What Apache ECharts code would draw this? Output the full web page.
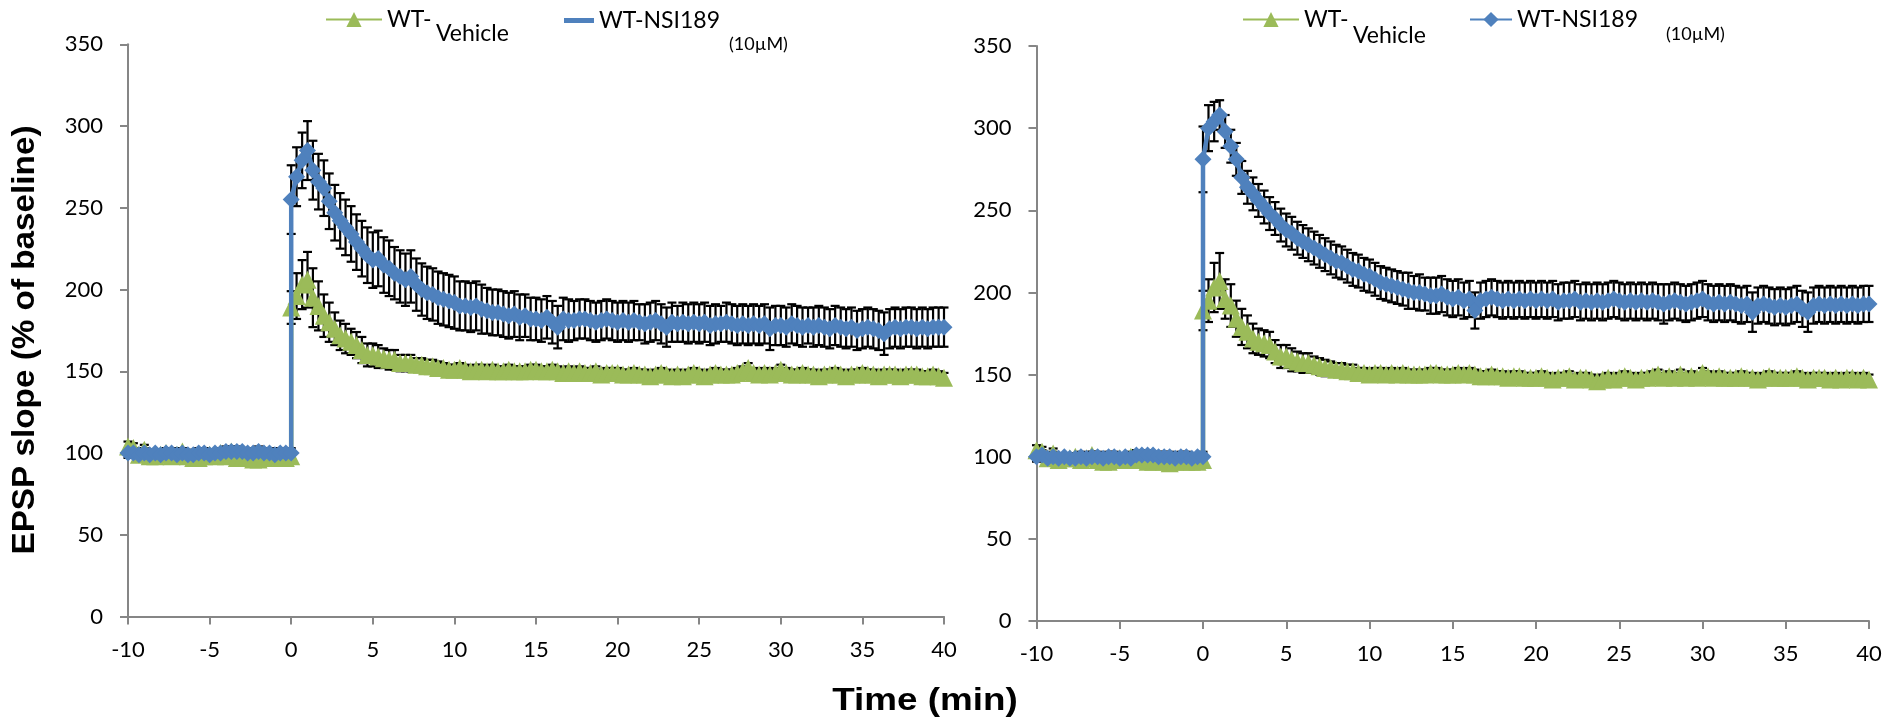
<!DOCTYPE html>
<html>
<head>
<meta charset="utf-8">
<script src="https://cdn.jsdelivr.net/npm/echarts@6/dist/echarts.min.js"></script>
<style>
html,body{margin:0;padding:0;background:#fff;}
#chart{width:1902px;height:723px;}
</style>
</head>
<body>
<div id="chart"></div>
<script>
// ---- time points (min) ----
const timeBaseline = [-10,-9.67,-9.33,-9,-8.67,-8.33,-8,-7.67,-7.33,-7,
  -6.67,-6.33,-6,-5.67,-5.33,-5,-4.67,-4.33,-4,-3.67,
  -3.33,-3,-2.67,-2.33,-2,-1.67,-1.33,-1,-0.67,-0.33,0];
const timePost = [
  0,0.33,0.67, 1,1.33,1.67, 2,2.33,2.67, 3,3.33,3.67, 4,4.33,4.67,
  5,5.33,5.67, 6,6.33,6.67, 7,7.33,7.67, 8,8.33,8.67, 9,9.33,9.67,
  10,10.33,10.67, 11,11.33,11.67, 12,12.33,12.67, 13,13.33,13.67, 14,14.33,14.67,
  15,15.33,15.67, 16,16.33,16.67, 17,17.33,17.67, 18,18.33,18.67, 19,19.33,19.67,
  20,20.33,20.67, 21,21.33,21.67, 22,22.33,22.67, 23,23.33,23.67, 24,24.33,24.67,
  25,25.33,25.67, 26,26.33,26.67, 27,27.33,27.67, 28,28.33,28.67, 29,29.33,29.67,
  30,30.33,30.67, 31,31.33,31.67, 32,32.33,32.67, 33,33.33,33.67, 34,34.33,34.67,
  35,35.33,35.67, 36,36.33,36.67, 37,37.33,37.67, 38,38.33,38.67, 39,39.33,39.67,
  40];

// ---- left panel ----
const leftVehBase = [104,103,99,102,98,98,99,100,98,99, 101,98,97,97,98,99,98,100,98,101, 97,97,98,96,96,97,98,98,97,97, 98];
const leftVehPost = [
  189,196,203, 206,195,190, 184,180,176, 172,170,168, 166,163,160,
  160,159,158, 157,157,155, 155,155,154, 154,153,153, 152,152,151,
  151,152,151, 150,151,151, 150,151,150, 150,151,150, 150,150,151,
  151,150,150, 151,150,149, 150,149,150, 149,149,150, 148,149,149,
  149,148,148, 149,148,148, 147,148,149, 148,147,148, 147,148,149,
  148,147,148, 149,148,148, 148,149,150, 152,149,148, 149,148,149,
  151,149,148, 148,149,148, 148,147,148, 148,149,148, 147,148,148,
  149,148,148, 147,148,148, 148,147,148, 148,148,147, 147,148,147,
  146];
const leftVehErrBase = [3,3,2,3,2,3,3,2,3,3, 2,3,3,2,3,3,2,3,3,2, 3,3,2,3,3,3,2,3,3,3, 3];
const leftVehErrPost = [
  10,14,15, 17,18,15, 13,12,10, 9,9,8, 8,8,7,
  7,7,6, 6,6,5, 5,5,4, 4,4,4, 4,3,3,
  3,3,3, 3,3,3, 3,3,3, 3,3,3, 3,3,3,
  3,3,3, 3,3,3, 3,3,3, 3,3,3, 3,3,3,
  3,3,3, 3,3,3, 3,3,3, 3,3,3, 3,3,3,
  3,3,3, 3,3,3, 3,3,3, 3,3,3, 3,3,3,
  3,3,3, 3,3,3, 3,3,3, 3,3,3, 3,3,3,
  3,3,3, 3,3,3, 3,3,3, 3,3,3, 3,3,3,
  3];
const leftNsiBase = [100,100,99,100,99,100,99,100,100,99, 100,99,99,100,100,99,100,100,101,101, 101,101,100,100,101,100,100,99,100,100, 100];
const leftNsiPost = [
  255,269,279, 285,273,266, 262,254,247, 242,238,234, 229,225,221,
  218,219,215, 213,210,208, 206,208,203, 200,198,197, 195,194,193,
  192,190,190, 189,190,188, 187,186,186, 185,184,185, 183,184,182,
  182,181,183, 180,177,182, 181,181,182, 182,181,180, 181,182,181,
  180,181,180, 181,180,179, 180,181,179, 177,180,179, 180,179,180,
  179,180,178, 179,179,180, 179,178,179, 178,179,178, 179,176,178,
  178,177,179, 178,177,178, 177,178,177, 176,178,177, 176,177,175,
  176,177,176, 175,173,176, 177,176,177, 177,176,177, 176,177,177,
  177];
const leftNsiErrBase = [3,3,2,3,3,2,3,3,3,2, 3,3,2,3,3,3,2,3,3,3, 3,2,3,3,3,2,3,3,3,2, 3];
const leftNsiErrPost = [
  21,18,17, 18,18,17, 17,17,17, 17,17,17, 17,17,17,
  17,17,17, 17,16,16, 16,16,16, 16,16,16, 16,16,16,
  16,15,15, 15,15,15, 14,14,14, 14,14,14, 14,13,13,
  13,13,13, 13,13,13, 13,12,12, 12,12,12, 12,12,12,
  12,12,12, 12,11,12, 12,12,12, 12,12,11, 12,12,12,
  12,12,12, 12,11,12, 12,12,12, 12,12,12, 12,13,12,
  12,12,12, 12,12,11, 12,12,12, 12,12,12, 12,12,12,
  12,12,12, 12,13,12, 12,12,12, 12,12,12, 12,12,12,
  12];

// ---- right panel ----
const rightVehBase = [104,103,99,102,98,99,99,100,98,99, 101,98,97,97,98,99,98,100,98,100, 97,97,98,97,96,97,98,97,97,97, 98];
const rightVehPost = [
  189,195,203, 207,196,192, 184,179,176, 172,170,169, 168,164,161,
  161,159,158, 157,157,156, 155,154,154, 153,153,152, 152,151,151,
  150,151,151, 150,151,150, 151,150,150, 150,150,151, 151,150,150,
  150,151,150, 151,150,149, 149,150,149, 149,148,149, 149,148,148,
  148,149,148, 147,148,148, 149,147,148, 148,147,146, 147,148,147,
  148,149,148, 147,148,148, 149,150,148, 149,148,150, 148,149,148,
  151,149,148, 149,148,148, 148,149,148, 148,147,148, 149,148,148,
  148,148,149, 148,147,148, 148,148,147, 148,147,148, 148,147,148,
  147];
const rightVehErrBase = [3,3,2,3,2,3,3,2,3,3, 2,3,3,2,3,3,2,3,3,2, 3,3,2,3,3,3,2,3,3,3, 3];
const rightVehErrPost = [
  12,13,15, 17,12,13, 11,11,10, 9,8,8, 8,7,7,
  7,7,6, 6,6,5, 5,5,4, 4,4,4, 4,3,3,
  3,3,3, 3,3,3, 3,3,3, 3,3,3, 3,3,3,
  3,3,3, 3,3,3, 3,3,3, 3,3,3, 3,3,3,
  3,3,3, 3,3,3, 3,3,3, 3,3,3, 3,3,3,
  3,3,3, 3,3,3, 3,3,3, 3,3,3, 3,3,3,
  3,3,3, 3,3,3, 3,3,3, 3,3,3, 3,3,3,
  3,3,3, 3,3,3, 3,3,3, 3,3,3, 3,3,3,
  3];
const rightNsiBase = [100,101,99,100,99,100,99,99,100,99, 100,100,99,100,100,99,100,99,101,101, 101,101,100,100,100,99,100,100,99,100, 100];
const rightNsiPost = [
  281,300,304, 308,298,289, 281,270,264, 260,256,252, 248,245,241,
  238,236,233, 231,229,227, 225,223,221, 219,218,216, 214,213,211,
  210,208,206, 205,204,203, 202,201,200, 200,199,198, 198,199,197,
  196,197,195, 196,189,195, 196,197,196, 195,196,195, 196,195,196,
  195,196,195, 196,194,195, 195,196,194, 195,194,195, 194,195,196,
  195,194,195, 194,195,194, 195,194,193, 194,195,194, 193,194,195,
  196,194,193, 194,193,194, 193,192,193, 188,192,193, 192,191,192,
  191,192,193, 190,188,192, 193,192,193, 192,193,192, 193,192,193,
  193];
const rightNsiErrBase = [3,3,2,3,3,2,3,3,3,2, 3,3,2,3,3,3,2,3,3,3, 3,2,3,3,3,2,3,3,3,2, 3];
const rightNsiErrPost = [
  20,14,12, 9,10,10, 10,10,10, 10,10,10, 10,10,10,
  10,10,10, 10,10,10, 10,10,10, 10,10,10, 10,10,10,
  10,10,10, 10,10,10, 10,11,10, 11,10,11, 11,11,11,
  11,11,11, 11,11,11, 11,11,11, 11,11,11, 11,11,11,
  11,11,11, 11,11,11, 11,11,11, 11,11,11, 11,11,11,
  11,11,11, 11,11,11, 11,11,12, 11,11,11, 11,11,11,
  11,11,11, 11,11,11, 11,11,11, 12,11,11, 11,11,11,
  11,11,11, 11,12,11, 11,11,11, 11,11,11, 11,11,11,
  11];

const yTicks = {min: 0, max: 350, step: 50};
const xTicks = {min: -10, max: 40, step: 5};

// ---- build ----
const timeAll = timeBaseline.concat(timePost);
const GREEN = '#9BBB59', BLUE = '#4F81BD', AXIS = '#868686';
function pts(v){ return timeAll.map((t,i)=>[t, v[i]]); }
function errPts(v, e){ return timeAll.map((t,i)=>[t, v[i]-e[i], v[i]+e[i]]); }

function renderErr(params, api){
  const x = api.value(0);
  const p1 = api.coord([x, api.value(2)]);
  const p2 = api.coord([x, api.value(1)]);
  const w = 4.5;
  const st = {stroke:'#000', lineWidth:2.2};
  return {type:'group', children:[
    {type:'line', shape:{x1:p1[0], y1:p1[1], x2:p2[0], y2:p2[1]}, style:st},
    {type:'line', shape:{x1:p1[0]-w, y1:p1[1], x2:p1[0]+w, y2:p1[1]}, style:st},
    {type:'line', shape:{x1:p2[0]-w, y1:p2[1], x2:p2[0]+w, y2:p2[1]}, style:st}
  ]};
}

const labelFont = {fontFamily:'Lato', fontSize:22, color:'#000'};
function xAx(g){ return {gridIndex:g, type:'value', min:xTicks.min, max:xTicks.max, interval:xTicks.step,
  axisLine:{onZero:false, lineStyle:{color:AXIS, width:2}},
  axisTick:{show:true, inside:false, length:8, lineStyle:{color:AXIS, width:2}},
  axisLabel:Object.assign({margin:22}, labelFont), splitLine:{show:false}}; }
function yAx(g){ return {gridIndex:g, type:'value', min:yTicks.min, max:yTicks.max, interval:yTicks.step,
  axisLine:{show:true, onZero:false, lineStyle:{color:AXIS, width:2}},
  axisTick:{show:true, inside:false, length:8, lineStyle:{color:AXIS, width:2}},
  axisLabel:Object.assign({margin:25}, labelFont), splitLine:{show:false}}; }

function lineSeries(name, g, v, color, sym, size, z){
  return {name:name, type:'line', xAxisIndex:g, yAxisIndex:g, data:pts(v), z:z,
    symbol:sym, symbolSize:size, showAllSymbol:true, color:color,
    itemStyle:{color:color}, lineStyle:{color:color, width:4.5}, animation:false};
}
function errSeries(g, v, e){
  return {type:'custom', xAxisIndex:g, yAxisIndex:g, data:errPts(v,e), renderItem:renderErr,
    encode:{x:0, y:[1,2]}, z:1, silent:true, animation:false};
}

const leftVeh = leftVehBase.concat(leftVehPost), leftVehErr = leftVehErrBase.concat(leftVehErrPost);
const leftNsi = leftNsiBase.concat(leftNsiPost), leftNsiErr = leftNsiErrBase.concat(leftNsiErrPost);
const rightVeh = rightVehBase.concat(rightVehPost), rightVehErr = rightVehErrBase.concat(rightVehErrPost);
const rightNsi = rightNsiBase.concat(rightNsiPost), rightNsiErr = rightNsiErrBase.concat(rightNsiErrPost);

const legText = {fontFamily:'Lato', fontSize:23, color:'#000'};
function leg(left, top, name, w, h, icon){
  const d = icon ? [{name:name, icon:icon}] : [name];
  return {left:left, top:top, padding:0, itemWidth:w, itemHeight:h, selectedMode:false,
    data:d, textStyle:legText, itemGap:0};
}

const chart = echarts.init(document.getElementById('chart'), null, {renderer:'canvas'});
chart.setOption({
  backgroundColor:'#fff',
  animation:false,
  grid:[{left:128, top:44.3, width:816, height:572.2},
        {left:1036.5, top:46, width:832.5, height:575}],
  xAxis:[xAx(0), xAx(1)],
  yAxis:[yAx(0), yAx(1)],
  legend:[
    leg(325, 8, 'WT-', 56, 19),
    leg(564, 9, 'WT-NSI189', 30, 5, 'rect'),
    leg(1242, 8, 'WT-', 56, 19),
    leg(1469, 8, 'WT-NSI189', 42, 19)
  ],
  series:[
    errSeries(0, leftVeh, leftVehErr),
    errSeries(0, leftNsi, leftNsiErr),
    errSeries(1, rightVeh, rightVehErr),
    errSeries(1, rightNsi, rightNsiErr),
    lineSeries('WT-', 0, leftVeh, GREEN, 'triangle', 18, 2),
    lineSeries('WT-NSI189', 0, leftNsi, BLUE, 'diamond', 17, 3),
    lineSeries('WT-', 1, rightVeh, GREEN, 'triangle', 18, 2),
    lineSeries('WT-NSI189', 1, rightNsi, BLUE, 'diamond', 17, 3)
  ],
  graphic:[
    {type:'text', x:436, y:34, style:{text:'Vehicle', fontFamily:'Lato', fontSize:23, fill:'#000', align:'left', verticalAlign:'middle'}},
    {type:'text', x:1353, y:36, style:{text:'Vehicle', fontFamily:'Lato', fontSize:23, fill:'#000', align:'left', verticalAlign:'middle'}},
    {type:'text', x:729, y:44, style:{text:'(10µM)', fontFamily:'Lato', fontSize:18, fill:'#000', align:'left', verticalAlign:'middle'}},
    {type:'text', x:1666, y:34, style:{text:'(10µM)', fontFamily:'Lato', fontSize:18, fill:'#000', align:'left', verticalAlign:'middle'}},
    {type:'text', x:25, y:340, rotation:Math.PI/2, scaleX:1.04,
      style:{text:'EPSP slope (% of baseline)', fontFamily:'Liberation Sans', fontWeight:'bold', fontSize:32, fill:'#000', align:'center', verticalAlign:'middle'}},
    {type:'text', x:925, y:701, scaleX:1.15,
      style:{text:'Time (min)', fontFamily:'Liberation Sans', fontWeight:'bold', fontSize:32, fill:'#000', align:'center', verticalAlign:'middle'}}
  ]
});
</script>
</body>
</html>
